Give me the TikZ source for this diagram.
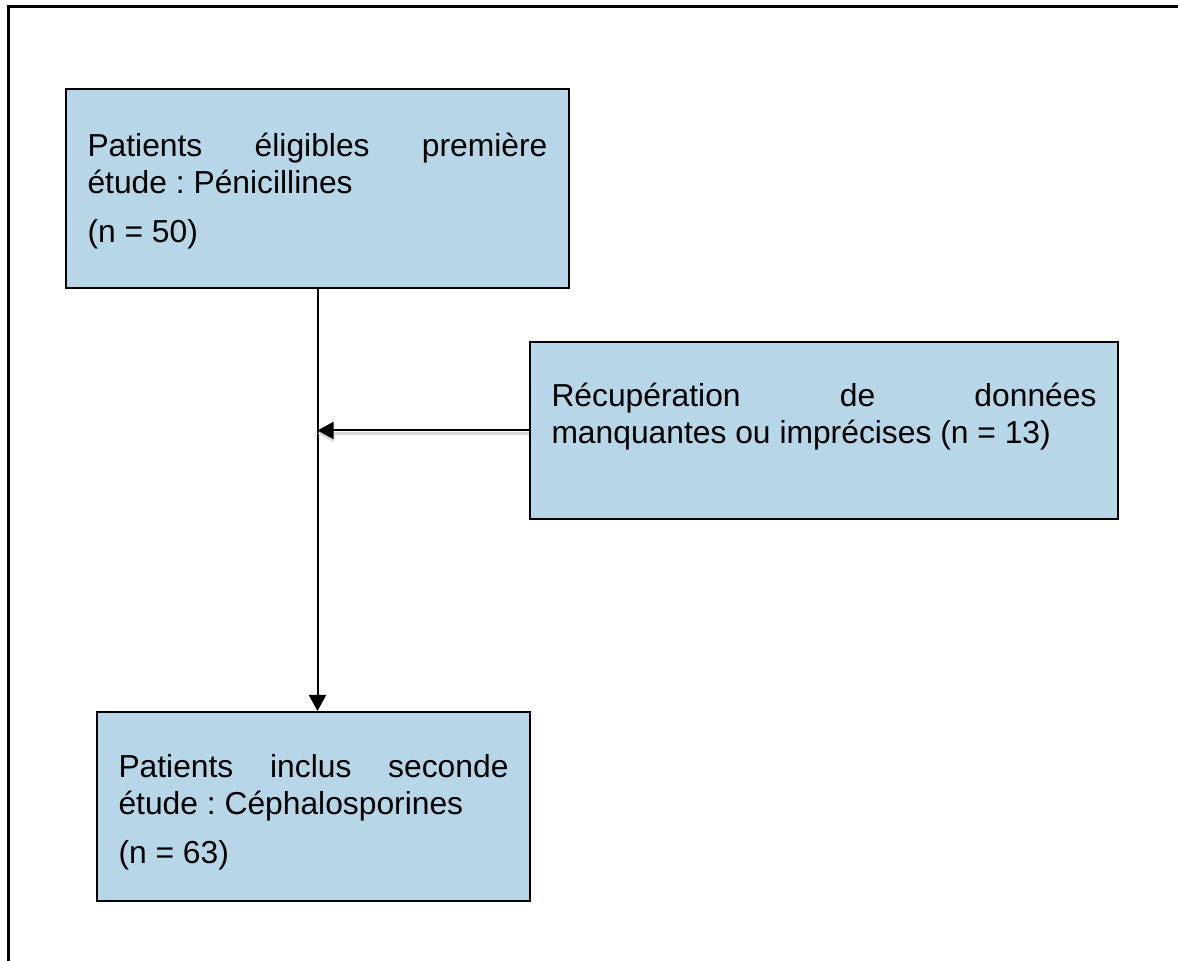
\documentclass[tikz,border=0pt]{standalone}
\usepackage{fontspec}
\setmainfont{Liberation Sans}
\usetikzlibrary{arrows.meta}
\definecolor{boxblue}{RGB}{183,215,232}
\tikzset{
block/.style={
draw,
line width=1pt,
fill=boxblue,
anchor=north west,
inner xsep=10.75pt,inner ysep=0pt,align=justify},
line/.style={-{Triangle[length=8pt,width=8.5pt]},line width=1pt},
font={\fontsize{15.9pt}{18.25pt}\selectfont\frenchspacing}
}

\begin{document}
\begin{tikzpicture}[x=0.5pt,y=-0.5pt]
  \useasboundingbox (0,0) rectangle (1178,961);
  \draw[line width=1.5pt] (8,7) rectangle (1200,1000);
  \node[block, text width=230pt, text height=34pt, text depth=65.5pt] (a) at (65,88)
    {Patients éligibles première\linebreak étude : Pénicillines\\[6.5pt](n = 50)};
  \node[block, text width=272.5pt, text height=32.5pt, text depth=56pt] (b) at (529,341)
    {Récupération de données\linebreak manquantes ou imprécises (n = 13)};
  \node[block, text width=195pt, text height=33pt, text depth=61.5pt] (c) at (96,711)
    {Patients inclus seconde\linebreak étude : Céphalosporines\\[6.5pt](n = 63)};
  \draw[line] (a.south) -- (a.south |- c.north);
  % shadow under the side arrow
  \draw[line, preaction={draw=gray!30, line width=1.5pt, transform canvas={yshift=-1.5pt}}] (b.west) -- (b.west -| a.south);
\end{tikzpicture}
\end{document}
